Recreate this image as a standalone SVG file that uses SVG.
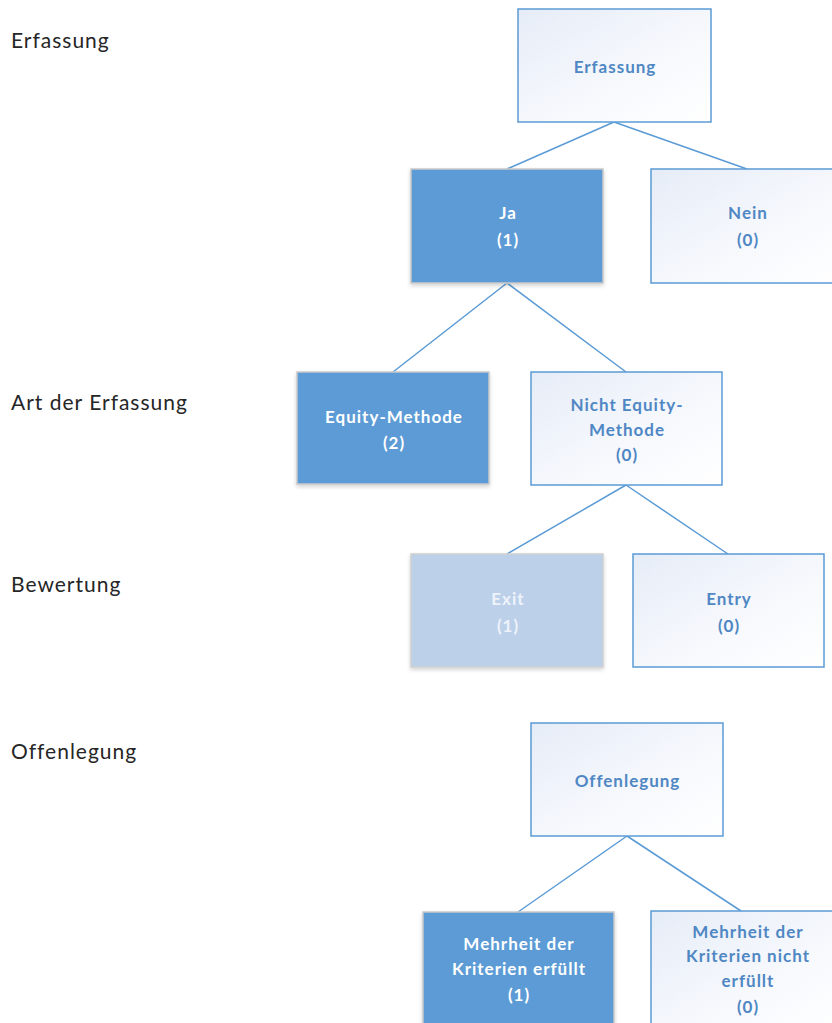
<svg xmlns="http://www.w3.org/2000/svg" width="832" height="1023" viewBox="0 0 832 1023">
<defs>
<linearGradient id="lg" x1="0" y1="0" x2="1" y2="1">
<stop offset="0" stop-color="#E6ECF7"/>
<stop offset="0.6" stop-color="#F7F9FD"/>
<stop offset="1" stop-color="#FFFFFF"/>
</linearGradient>
<filter id="sh" x="-10%" y="-10%" width="120%" height="125%">
<feGaussianBlur in="SourceAlpha" stdDeviation="2"/>
<feOffset dx="0" dy="2"/>
<feComponentTransfer><feFuncA type="linear" slope="0.18"/></feComponentTransfer>
<feMerge><feMergeNode/><feMergeNode in="SourceGraphic"/></feMerge>
</filter>
</defs>
<style>
.light{fill:url(#lg);stroke:#5B9BD5;stroke-width:1.5}
.dark{fill:#5B9BD5;stroke:#C9C9C9;stroke-width:1.5;filter:url(#sh)}
.pale{fill:#BDD0E9;stroke:#D0D0D0;stroke-width:1.5;filter:url(#sh)}
.tl,.tw,.tp{font-family:Lato,"Liberation Sans",sans-serif;font-weight:bold;font-size:17px;letter-spacing:1px;text-anchor:middle}
.tl{fill:#4F87C4}
.tw{fill:#FFFFFF}
.tp{fill:#EEF3FA}
.lab{font-family:Lato,"Liberation Sans",sans-serif;font-size:21px;letter-spacing:1px;fill:#262626}
.con{stroke:#5B9BD5;stroke-width:1.5;fill:none}
</style>
<rect width="832" height="1023" fill="#FFFFFF"/>
<g id="labels">
<text class="lab" x="11" y="48">Erfassung</text>
<text class="lab" x="11" y="410">Art der Erfassung</text>
<text class="lab" x="11" y="592">Bewertung</text>
<text class="lab" x="11" y="759">Offenlegung</text>
</g>
<g id="connectors">
<path class="con" d="M614,122 L507,169 M614,122 L747,169"/>
<path class="con" d="M507,283 L393,372 M507,283 L626,372"/>
<path class="con" d="M626,485 L507,554 M626,485 L728,554"/>
<path class="con" d="M627,836 L518,912 M627,836 L741,911"/>
</g>
<g id="n-erfassung">
<rect class="light" x="518" y="9" width="193" height="113"/>
<text class="tl" x="615" y="73">Erfassung</text>
</g>
<g id="n-ja">
<rect class="dark" x="411" y="169" width="192" height="114"/>
<text class="tw" x="508" y="219">Ja</text>
<text class="tw" x="508" y="246">(1)</text>
</g>
<g id="n-nein">
<rect class="light" x="651" y="169" width="192" height="114"/>
<text class="tl" x="748" y="219">Nein</text>
<text class="tl" x="748" y="246">(0)</text>
</g>
<g id="n-equity">
<rect class="dark" x="297" y="372" width="192" height="112"/>
<text class="tw" x="394" y="423">Equity-Methode</text>
<text class="tw" x="394" y="449">(2)</text>
</g>
<g id="n-nicht-equity">
<rect class="light" x="531" y="372" width="191" height="113"/>
<text class="tl" x="627" y="411">Nicht Equity-</text>
<text class="tl" x="627" y="436">Methode</text>
<text class="tl" x="627" y="461">(0)</text>
</g>
<g id="n-exit">
<rect class="pale" x="411" y="554" width="192" height="113"/>
<text class="tp" x="508" y="605">Exit</text>
<text class="tp" x="508" y="632">(1)</text>
</g>
<g id="n-entry">
<rect class="light" x="633" y="554" width="191" height="113"/>
<text class="tl" x="729" y="605">Entry</text>
<text class="tl" x="729" y="632">(0)</text>
</g>
<g id="n-offenlegung">
<rect class="light" x="531" y="723" width="192" height="113"/>
<text class="tl" x="627.5" y="787">Offenlegung</text>
</g>
<g id="n-erfuellt">
<rect class="dark" x="423" y="912" width="191" height="120"/>
<text class="tw" x="519" y="950">Mehrheit der</text>
<text class="tw" x="519" y="975">Kriterien erfüllt</text>
<text class="tw" x="519" y="1001">(1)</text>
</g>
<g id="n-nicht-erfuellt">
<rect class="light" x="651" y="911" width="192" height="120"/>
<text class="tl" x="748" y="938">Mehrheit der</text>
<text class="tl" x="748" y="962">Kriterien nicht</text>
<text class="tl" x="748" y="987">erfüllt</text>
<text class="tl" x="748" y="1013">(0)</text>
</g>
</svg>
